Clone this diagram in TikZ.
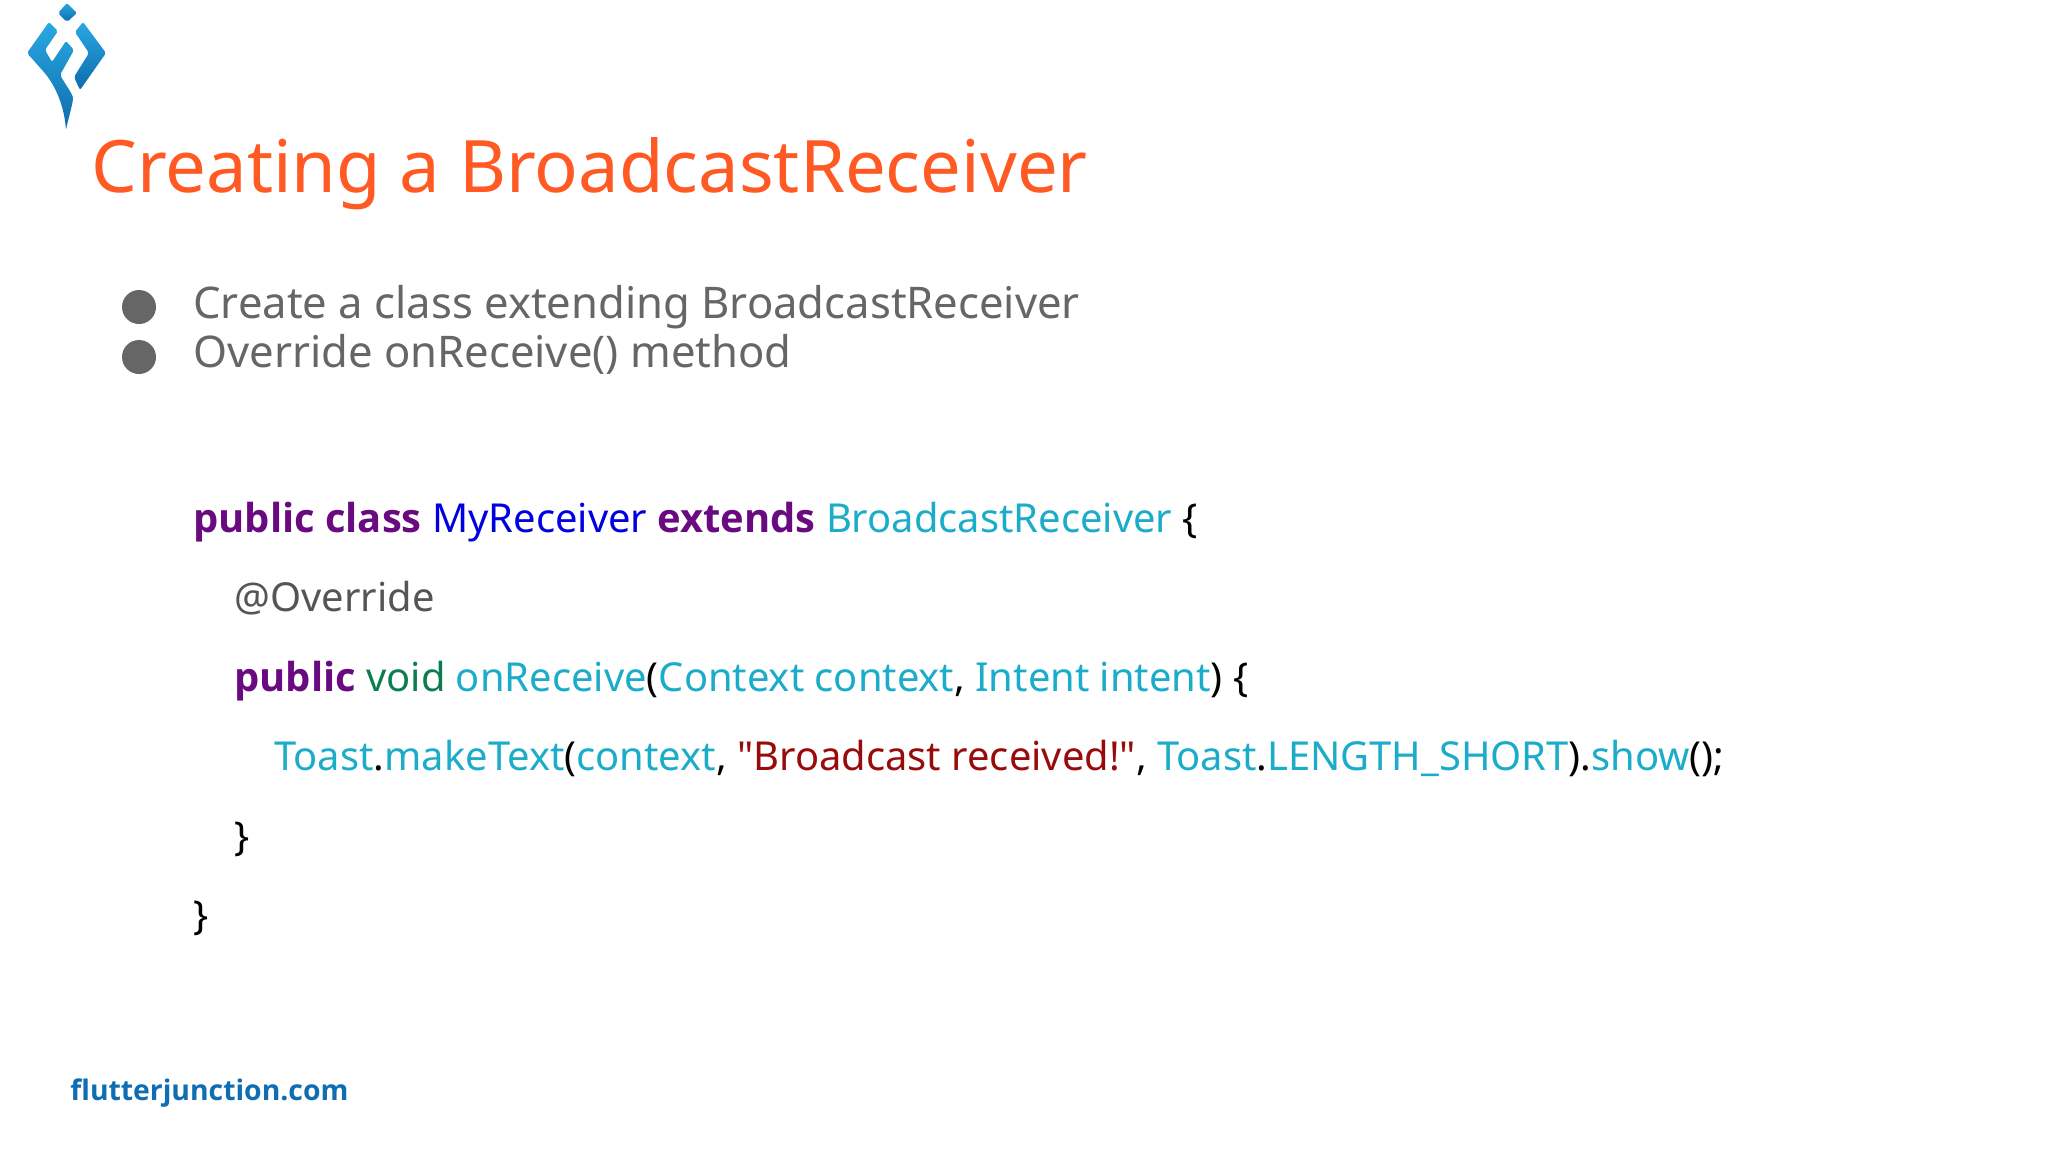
\documentclass[tikz,border=0pt]{standalone}
\usepackage{fontspec}
\setmainfont{Noto Sans}[Ligatures=TeXOff]
\newfontfamily\heavyfont{Open Sans}[Ligatures=TeXOff]
\usetikzlibrary{positioning,calc}
\definecolor{titleorange}{HTML}{FF5A24}
\definecolor{bodygray}{HTML}{666666}
\definecolor{annogray}{HTML}{555555}
\definecolor{kwpurple}{HTML}{6A0A80}
\definecolor{clsblue}{HTML}{0000E0}
\definecolor{idteal}{HTML}{1AACC8}
\definecolor{voidgreen}{HTML}{0B7D50}
\definecolor{strred}{HTML}{990A0A}
\definecolor{footblue}{HTML}{0F6DB2}
\definecolor{logolight}{HTML}{2AA8E2}
\definecolor{logodark}{HTML}{0D6BAC}
\newcommand{\kw}[1]{\textcolor{kwpurple}{{\heavyfont\bfseries #1}}}
\newcommand{\idt}[1]{\textcolor{idteal}{#1}}
\tikzset{
	textline/.style={anchor=base west, inner sep=0pt},
	itemline/.style={textline, text=bodygray, font=\fontsize{21.8}{26}\selectfont},
	codeline/.style={textline, text=black, font=\fontsize{19.95}{24}\selectfont},
	bulletdot/.style={circle, fill=bodygray, minimum size=17pt, inner sep=0pt},
	logopart/.style={rounded corners=1pt, top color=logolight, bottom color=logodark}
}

\begin{document}
\begin{tikzpicture}[x=0.5pt, y=-0.5pt]
	\useasboundingbox (0, 0) rectangle (2048, 1152);

	\begin{scope}
		\shade[logopart] (67, 3) -- (77, 13) -- (67, 22) -- (58, 13) -- cycle;
		\shade[logopart] (49, 22) -- (58, 31) -- (45, 50) -- (52, 62) -- (66, 41) -- (74, 50) -- (60, 75)
			.. controls (66, 85) and (73, 95) .. (73, 100) .. controls (71, 110) and (68, 120) .. (66, 130)
			.. controls (64, 105) and (55, 85) .. (43, 71) -- (27, 53) -- cycle;
		\shade[logopart] (83, 22) -- (106, 53) -- (80, 90) -- (74, 77) -- (89, 53) -- (75, 32) -- cycle;
	\end{scope}

	\node[textline, text=titleorange, font=\fontsize{36.2}{44}\selectfont] (title) at (91, 192) {Creating a BroadcastReceiver};

	\node[bulletdot] (dot1) at (139, 307) {};
	\node[bulletdot] (dot2) at (139, 357) {};
	\node[itemline] (item1) at (193, 318) {Create a class extending BroadcastReceiver};
	\node[itemline] (item2) at (193, 367) {Override onReceive() method};

	\node[codeline] (code1) at (193, 532) {\kw{public class} \textcolor{clsblue}{MyReceiver} \kw{extends} \idt{BroadcastReceiver} \{};
	\node[codeline, text=annogray] (code2) at (234, 611) {@Override};
	\node[codeline] (code3) at (234, 691) {\kw{public} \textcolor{voidgreen}{void} \idt{onReceive}(\idt{Context context}, \idt{Intent intent}) \{};
	\node[codeline] (code4) at (274, 770) {\idt{Toast}.\idt{makeText}(\idt{context}, \textcolor{strred}{"Broadcast received!"}, \idt{Toast}.\idt{LENGTH\_SHORT}).\idt{show}();};
	\node[codeline] (code5) at (234, 850) {\}};
	\node[codeline] (code6) at (193, 929) {\}};

	\node[textline, text=footblue, font=\fontsize{14.17}{18}\selectfont\heavyfont\bfseries] (site) at (70, 1100) {flutterjunction.com};
\end{tikzpicture}
\end{document}
